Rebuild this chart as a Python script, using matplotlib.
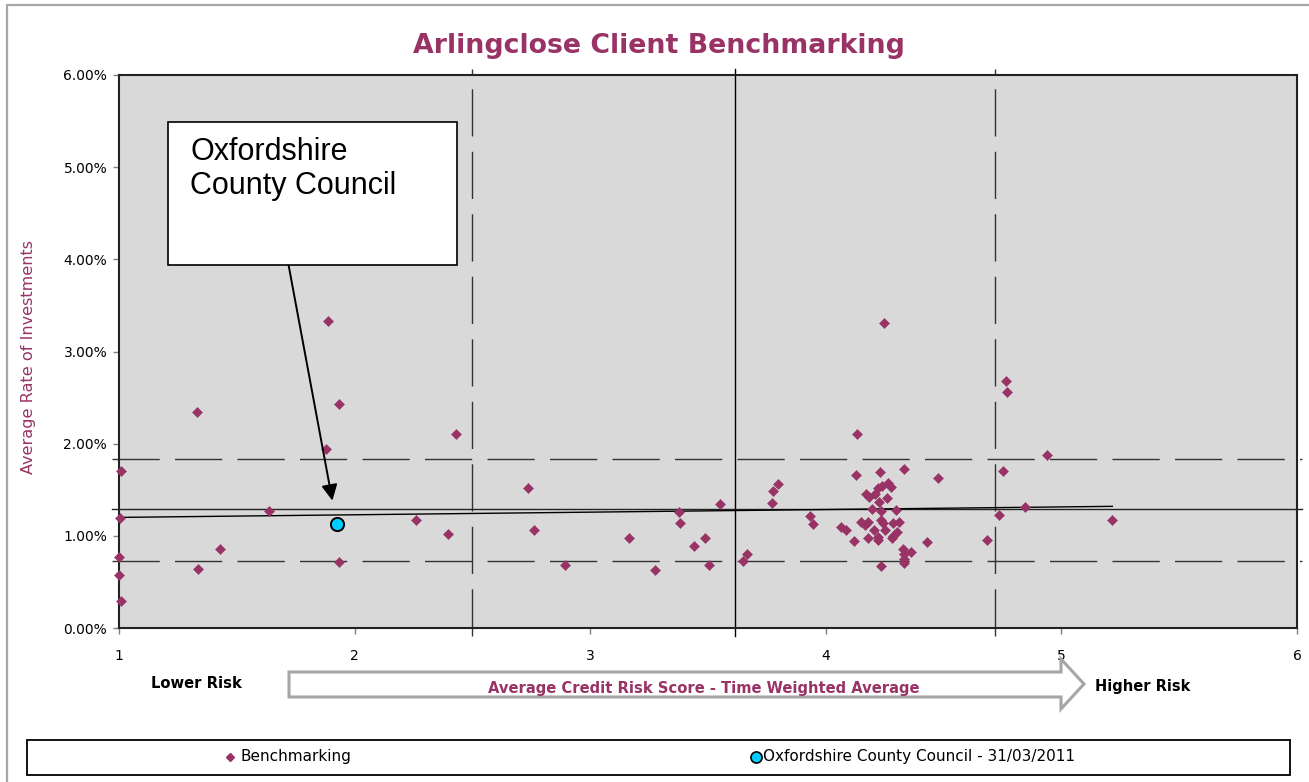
import matplotlib
matplotlib.use('Agg')
import matplotlib.pyplot as plt
from matplotlib.patches import Rectangle, Polygon
from matplotlib.lines import Line2D
from matplotlib.ticker import FuncFormatter, FixedLocator

# ---------------- data ----------------
bench_x = [1.007, 1.003, 1.000, 1.000, 1.007, 1.332, 1.337, 1.429, 1.637, 1.880,
           1.886, 1.932, 1.932, 2.260, 2.395, 2.429, 2.737, 2.760, 2.893, 3.166,
           3.275, 3.379, 3.383, 3.440, 3.487, 3.505, 3.551, 3.647, 3.664, 3.773,
           3.774, 3.798, 3.933, 3.947, 4.064, 4.085, 4.119, 4.127, 4.134, 4.149,
           4.166, 4.171, 4.177, 4.177, 4.185, 4.197, 4.205, 4.207, 4.220, 4.222,
           4.222, 4.227, 4.228, 4.233, 4.234, 4.234, 4.237, 4.241, 4.246, 4.252,
           4.259, 4.264, 4.275, 4.282, 4.286, 4.286, 4.297, 4.302, 4.309, 4.328,
           4.330, 4.332, 4.332, 4.332, 4.362, 4.428, 4.476, 4.684, 4.735, 4.750,
           4.763, 4.768, 4.844, 4.938, 5.216]
bench_y = [1.70, 1.19, 0.77, 0.57, 0.29, 2.34, 0.64, 0.86, 1.27, 1.94,
           3.33, 2.43, 0.72, 1.17, 1.02, 2.10, 1.52, 1.06, 0.68, 0.98,
           0.63, 1.26, 1.14, 0.89, 0.98, 0.68, 1.35, 0.73, 0.80, 1.36,
           1.49, 1.56, 1.22, 1.13, 1.10, 1.06, 0.94, 1.66, 2.11, 1.15,
           1.12, 1.45, 1.15, 0.98, 1.42, 1.29, 1.06, 1.45, 1.52, 0.99,
           0.95, 1.37, 1.69, 1.27, 1.17, 0.67, 1.54, 1.14, 3.31, 1.06,
           1.41, 1.57, 1.53, 0.98, 1.14, 1.00, 1.28, 1.04, 1.15, 0.86,
           1.73, 0.80, 0.75, 0.70, 0.83, 0.93, 1.63, 0.95, 1.23, 1.70,
           2.68, 2.56, 1.31, 1.88, 1.17]
council_x = [1.924]
council_y = [1.13]
series_labels = ["Benchmarking", "Oxfordshire County Council - 31/03/2011"]
callout_text = "Oxfordshire\nCounty Council"

rate_lines = [0.73, 1.29, 1.83]      # lower band, average, upper band (%)
risk_lines = [2.50, 3.615, 4.72]     # lower band, average, upper band (score)
trend_x = [1.0, 5.216]
trend_y = [1.20, 1.32]

x_ticks = [1, 2, 3, 4, 5, 6]
y_ticks = [0, 1, 2, 3, 4, 5, 6]

title = "Arlingclose Client Benchmarking"
y_label = "Average Rate of Investments"
x_label = "Average Credit Risk Score - Time Weighted Average"
low_label = "Lower Risk"
high_label = "Higher Risk"

# ---------------- style ----------------
MAROON = '#993366'
CYAN = '#00CCFF'
W, H = 1309, 782
plt.rcParams['font.family'] = ['DejaVu Sans']

fig = plt.figure(figsize=(W / 100, H / 100), dpi=100)
fig.patch.set_facecolor('white')


def fx(px):
    return px / W


def fy(py):
    return 1 - py / H


# outer chart border
fig.add_artist(Rectangle((fx(7), fy(800)), fx(1320) - fx(7), fy(5) - fy(800),
                         transform=fig.transFigure, fill=False,
                         ec='#A6A6A6', lw=1.6, clip_on=False))

ax = fig.add_axes([fx(119), fy(628), fx(1297) - fx(119), fy(75) - fy(628)])
ax.set_facecolor('#D9D9D9')
ax.set_xlim(1, 6)
ax.set_ylim(0, 6)
ax.xaxis.set_major_locator(FixedLocator(x_ticks))
ax.yaxis.set_major_locator(FixedLocator(y_ticks))
ax.yaxis.set_major_formatter(FuncFormatter(lambda v, p: f"{v:.2f}%"))
ax.xaxis.set_major_formatter(FuncFormatter(lambda v, p: f"{v:g}"))
ax.tick_params(axis='y', length=4, width=1, color='#808080', pad=4.5, labelsize=10)
ax.tick_params(axis='x', length=4, width=1, color='#808080', pad=11, labelsize=10)
for s in ax.spines.values():
    s.set_color('#222222')
    s.set_linewidth(1.5)

# reference lines
for i, v in enumerate(risk_lines):
    if i == 1:
        ax.plot([v, v], [-0.09, 6.06], color='black', lw=1.0, clip_on=False, zorder=2)
    else:
        ax.plot([v, v], [-0.09, 6.06], color='#333333', lw=1.0, dashes=(34, 11),
                clip_on=False, zorder=2)
for i, v in enumerate(rate_lines):
    if i == 1:
        ax.plot([0.97, 6.02], [v, v], color='#222222', lw=1.0, clip_on=False, zorder=2)
    else:
        ax.plot([0.97, 6.02], [v, v], color='#333333', lw=1.0, dashes=(34, 11),
                clip_on=False, zorder=2)

# trend line
ax.plot(trend_x, trend_y, color='black', lw=1.0, zorder=3)

# data
ax.plot(bench_x, bench_y, ls='none', marker='D', ms=4.6, mfc=MAROON, mec=MAROON,
        mew=0.4, zorder=4, clip_on=False)
ax.plot(council_x, council_y, ls='none', marker='o', ms=9.5, mfc=CYAN, mec='black',
        mew=1.4, zorder=5)

# titles / labels
fig.text(fx(659), fy(46), title, ha='center', va='center', fontsize=19.3,
         fontweight='bold', color=MAROON)
fig.text(fx(29), fy(357), y_label, ha='center', va='center', rotation=90,
         fontsize=11.6, color=MAROON)
fig.text(fx(196), fy(683), low_label, ha='center', va='center', fontsize=10.6,
         fontweight='bold', color='black')
fig.text(fx(1143), fy(686), high_label, ha='center', va='center', fontsize=10.5,
         fontweight='bold', color='black')

# big arrow
arrow_px = [(289, 672), (1061, 672), (1061, 659), (1084, 684), (1061, 709),
            (1061, 697), (289, 697)]
fig.add_artist(Polygon([(fx(a), fy(b)) for a, b in arrow_px], closed=True,
                       transform=fig.transFigure, fc='white', ec='#A6A6A6',
                       lw=2.2, joinstyle='miter'))
fig.text(fx(704), fy(689), x_label, ha='center', va='center', fontsize=10.6,
         fontweight='bold', color=MAROON)

# callout box
fig.add_artist(Rectangle((fx(168), fy(265)), fx(457) - fx(168), fy(122) - fy(265),
                         transform=fig.transFigure, fc='white', ec='black', lw=1.2))
fig.text(fx(190), fy(169), callout_text, ha='left', va='center', fontsize=22,
         family='Liberation Sans', color='black', linespacing=1.2)
ax.annotate('', xy=(council_x[0], council_y[0]), xycoords='data',
            xytext=(fx(288), fy(262)), textcoords='figure fraction',
            arrowprops=dict(arrowstyle='-|>', color='black', lw=1.4,
                            mutation_scale=24, shrinkA=0, shrinkB=17),
            zorder=6)

# legend box
fig.add_artist(Rectangle((fx(27), fy(775)), fx(1290) - fx(27), fy(740) - fy(775),
                         transform=fig.transFigure, fc='white', ec='black', lw=1.3))
fig.add_artist(Line2D([fx(230)], [fy(757)], transform=fig.transFigure, ls='none',
                      marker='D', ms=4.2, mfc=MAROON, mec=MAROON))
fig.text(fx(240), fy(757), series_labels[0], ha='left', va='center', fontsize=11,
         color='black')
fig.add_artist(Line2D([fx(756)], [fy(757)], transform=fig.transFigure, ls='none',
                      marker='o', ms=8, mfc=CYAN, mec='black', mew=1.2))
fig.text(fx(763), fy(757), series_labels[1], ha='left', va='center', fontsize=11,
         color='black')

fig.savefig('out.png', dpi=100, facecolor='white')
